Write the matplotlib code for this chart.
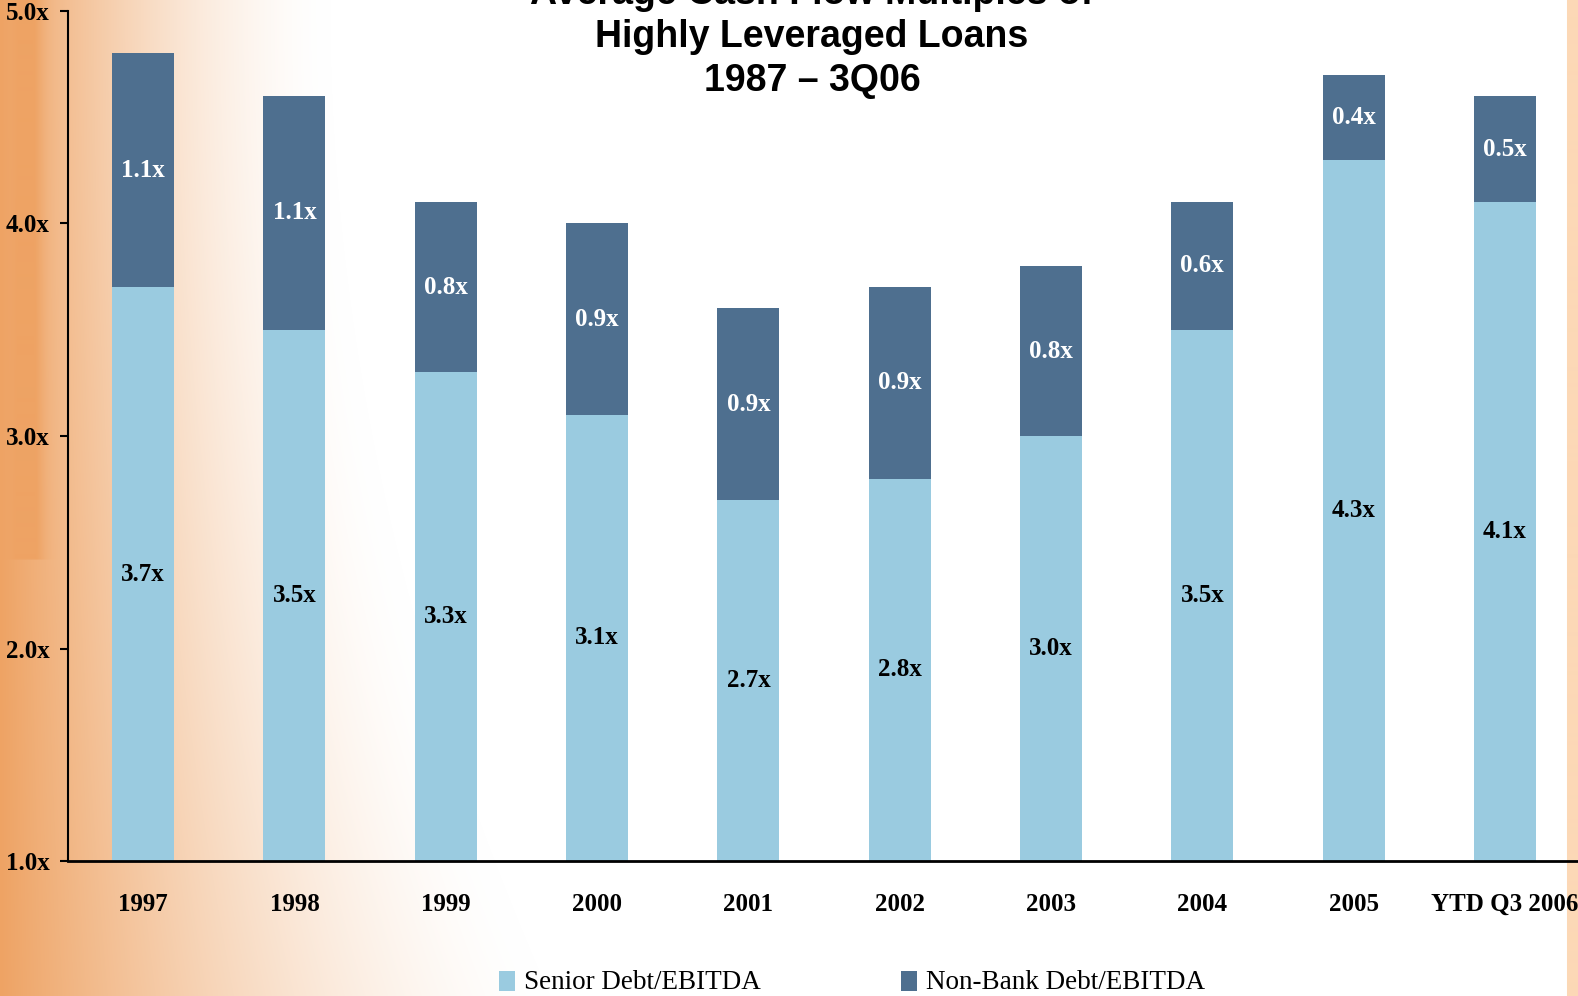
import numpy as np
import matplotlib
matplotlib.use("Agg")
import matplotlib.pyplot as plt
from matplotlib.patches import Rectangle

# ---- data ----
categories = ["1997", "1998", "1999", "2000", "2001", "2002", "2003", "2004", "2005", "YTD Q3 2006"]
senior = [3.7, 3.5, 3.3, 3.1, 2.7, 2.8, 3.0, 3.5, 4.3, 4.1]
nonbank = [1.1, 1.1, 0.8, 0.9, 0.9, 0.9, 0.8, 0.6, 0.4, 0.5]
yticks = [1.0, 2.0, 3.0, 4.0, 5.0]
ytick_labels = ["1.0x", "2.0x", "3.0x", "4.0x", "5.0x"]
title_lines = ["Average Cash Flow Multiples of", "Highly Leveraged Loans", "1987 \u2013 3Q06"]
series_names = ["Senior Debt/EBITDA", "Non-Bank Debt/EBITDA"]

C_SENIOR = "#9ACBE0"
C_NONBANK = "#4E6F8F"

W, H = 1578, 996
fig = plt.figure(figsize=(W / 100, H / 100), dpi=100)

# ---- background (orange fade on left, thin strip at right) ----
xs = np.arange(W)
ys = np.arange(H)
X, Y = np.meshgrid(xs, ys)
reach = 330 + 220 * (Y / H) ** 2
t = np.clip(1 - X / reach, 0, 1) ** 1.6
band = np.exp(-((X - 30) / 14.0) ** 2) * (Y < 560) * 0.2
t = np.clip(t + band * t, 0, 1)
orange = np.array([238, 163, 100]) / 255.0
img = np.ones((H, W, 3))
img = img * (1 - t[..., None]) + orange * t[..., None]
strip = X >= 1567
img[strip] = np.array([252, 216, 182]) / 255.0
bg = fig.add_axes([0, 0, 1, 1], zorder=-10)
bg.imshow(img, aspect="auto", extent=(0, 1, 0, 1), origin="upper", interpolation="bilinear")
bg.axis("off")

# ---- main axes ----
left = 67.5 / W
bottom = (H - 861) / H
height = 850 / H
ax = fig.add_axes([left, bottom, 1 - left, height])
ax.set_facecolor("none")

x = np.arange(len(categories))
bw = 0.41
base = 1.0
sen_h = [s - base for s in senior]
b1 = ax.bar(x, sen_h, bw, bottom=base, color=C_SENIOR, label=series_names[0], zorder=2)
b2 = ax.bar(x, nonbank, bw, bottom=senior, color=C_NONBANK, label=series_names[1], zorder=2)

lab_font = dict(family="Liberation Serif", fontweight="bold", fontsize=18)
for xi, s, n in zip(x, senior, nonbank):
    ax.text(xi, (base + s) / 2, f"{s:.1f}x", ha="center", va="center", color="black", **lab_font)
    ax.text(xi, s + n / 2, f"{n:.1f}x", ha="center", va="center", color="white", **lab_font)

ax.set_xlim(-0.5, (W - 143) / 151.33)
ax.set_ylim(1.0, 5.0)
ax.set_yticks(yticks)
ax.set_yticklabels(ytick_labels)
ax.set_xticks(x)
ax.set_xticklabels(categories)
for lbl in ax.get_yticklabels():
    lbl.set_fontfamily("Liberation Serif")
    lbl.set_fontweight("bold")
    lbl.set_fontsize(18)
for lbl in ax.get_xticklabels():
    lbl.set_fontfamily("Liberation Serif")
    lbl.set_fontweight("bold")
    lbl.set_fontsize(18)
ax.tick_params(axis="x", length=0, pad=23)
ax.tick_params(axis="y", length=6, width=1.5, pad=7, direction="out")
for sp in ["top", "right"]:
    ax.spines[sp].set_visible(False)
ax.spines["left"].set_linewidth(1.5)
ax.spines["bottom"].set_linewidth(2.0)

# ---- title ----
tx = 812 / W
for line, base_px in zip(title_lines, [4, 47, 91]):
    fig.text(tx, 1 - base_px / H, line, ha="center", va="baseline",
             family="Liberation Sans", fontweight="bold", fontsize=27)

# ---- legend (manual, square swatches) ----
sw_x = [499, 901]
for name, col, sx in zip(series_names, [C_SENIOR, C_NONBANK], sw_x):
    fig.add_artist(Rectangle((sx / W, 1 - 991 / H), 16 / W, 20 / H,
                             transform=fig.transFigure, facecolor=col, edgecolor="none"))
    fig.text((sx + 25) / W, 1 - 989 / H, name, ha="left", va="baseline",
             family="Liberation Serif", fontsize=19.5, color="black")

fig.savefig("out.png", dpi=100)
